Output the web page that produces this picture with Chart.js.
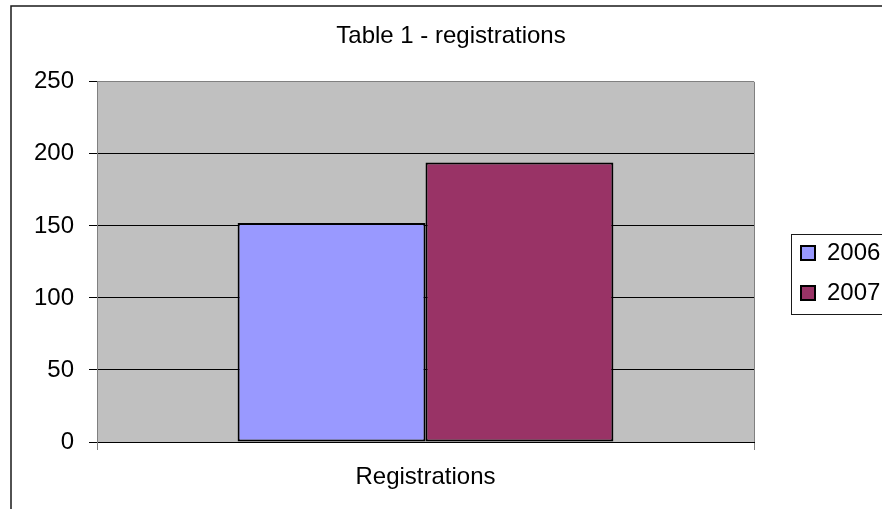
<!DOCTYPE html>
<html>
<head>
<meta charset="utf-8">
<script src="https://cdn.jsdelivr.net/npm/chart.js@4.4.1/dist/chart.umd.min.js"></script>
<style>
  html, body { margin: 0; padding: 0; background: #fff; }
  #wrap { width: 882px; height: 509px; position: relative; }
</style>
</head>
<body>
<div id="wrap"><canvas id="regChart" width="882" height="509"></canvas></div>
<script>
// --- Data ---
const categories = ['Registrations'];
const seriesLabels = ['2006', '2007'];
const values2006 = [152];
const values2007 = [194];
const yTicks = [0, 50, 100, 150, 200, 250];

const FONT = "'Liberation Sans', Arial, sans-serif";
Chart.defaults.font.family = FONT;
Chart.defaults.font.size = 24;
Chart.defaults.color = '#000';

// Nền xám cho vùng vẽ + khung ngoài của biểu đồ
const framePlugin = {
    id: 'frame',
    beforeDraw(chart) {
        const { ctx, chartArea: a } = chart;
        ctx.save();
        ctx.fillStyle = '#C0C0C0';
        ctx.fillRect(a.left, a.top, a.right - a.left, a.bottom - a.top);
        ctx.strokeStyle = '#1a1a1a';
        ctx.lineWidth = 1.5;
        ctx.beginPath();
        ctx.moveTo(11, 509);
        ctx.lineTo(11, 6);
        ctx.lineTo(882, 6);
        ctx.stroke();
        ctx.restore();
    },
    afterLayout(chart) {
        // đẩy chú thích về vị trí như bản gốc
        const lg = chart.legend;
        const w = lg.width, h = lg.height;
        lg.left = 785; lg.right = 785 + w;
        lg.top = 225; lg.bottom = 225 + h;
        // tiêu đề canh giữa theo khung ngoài (x 11 → ~891)
        const tb = chart.titleBlock;
        tb.left = 20; tb.right = 882; tb.width = 862;
    },
    afterDraw(chart) {
        const { ctx } = chart;
        ctx.save();
        ctx.strokeStyle = '#1a1a1a';
        ctx.lineWidth = 1;
        ctx.strokeRect(791.5, 234.5, 120, 80);
        ctx.restore();
    }
};

new Chart(document.getElementById('regChart').getContext('2d'), {
    type: 'bar',
    data: {
        labels: categories,
        datasets: [
            { label: seriesLabels[0], data: values2006, backgroundColor: '#9999FF', borderColor: '#000', borderWidth: 2, borderSkipped: false },
            { label: seriesLabels[1], data: values2007, backgroundColor: '#993366', borderColor: '#000', borderWidth: 2, borderSkipped: false }
        ]
    },
    options: {
        responsive: false,
        animation: false,
        devicePixelRatio: 1,
        categoryPercentage: 0.572,
        barPercentage: 1.0,
        layout: { padding: { left: 0, right: 23, top: 0, bottom: 0 } },
        plugins: {
            tooltip: { enabled: false },
            title: {
                display: true,
                text: 'Table 1 - registrations',
                color: '#000',
                font: { family: FONT, size: 24, weight: 'normal', lineHeight: 1.2 },
                padding: { top: 22, bottom: 31 }
            },
            legend: {
                position: 'right',
                align: 'start',
                maxWidth: 105,
                labels: {
                    boxWidth: 14,
                    boxHeight: 14,
                    padding: 16,
                    color: '#000',
                    font: { family: FONT, size: 24 }
                }
            }
        },
        scales: {
            x: {
                offset: true,
                grid: { offset: true, color: '#808080', tickColor: '#808080', tickLength: 8, lineWidth: 1 },
                border: { color: '#000', width: 1 },
                ticks: { padding: 13, color: '#000', font: { family: FONT, size: 24 } },
                afterFit(scale) { scale.height = 67; }
            },
            y: {
                min: 0,
                max: 250,
                afterBuildTicks(scale) { scale.ticks = yTicks.map(v => ({ value: v })); },
                grid: {
                    color: (c) => (c.tick && c.tick.value === 250 ? '#808080' : '#000'),
                    tickColor: '#000',
                    tickLength: 8,
                    lineWidth: 1
                },
                border: { color: '#808080', width: 1 },
                ticks: { padding: 15, color: '#000', font: { family: FONT, size: 24 } },
                afterFit(scale) { scale.width = 97; }
            }
        }
    },
    plugins: [framePlugin]
});
</script>
</body>
</html>
